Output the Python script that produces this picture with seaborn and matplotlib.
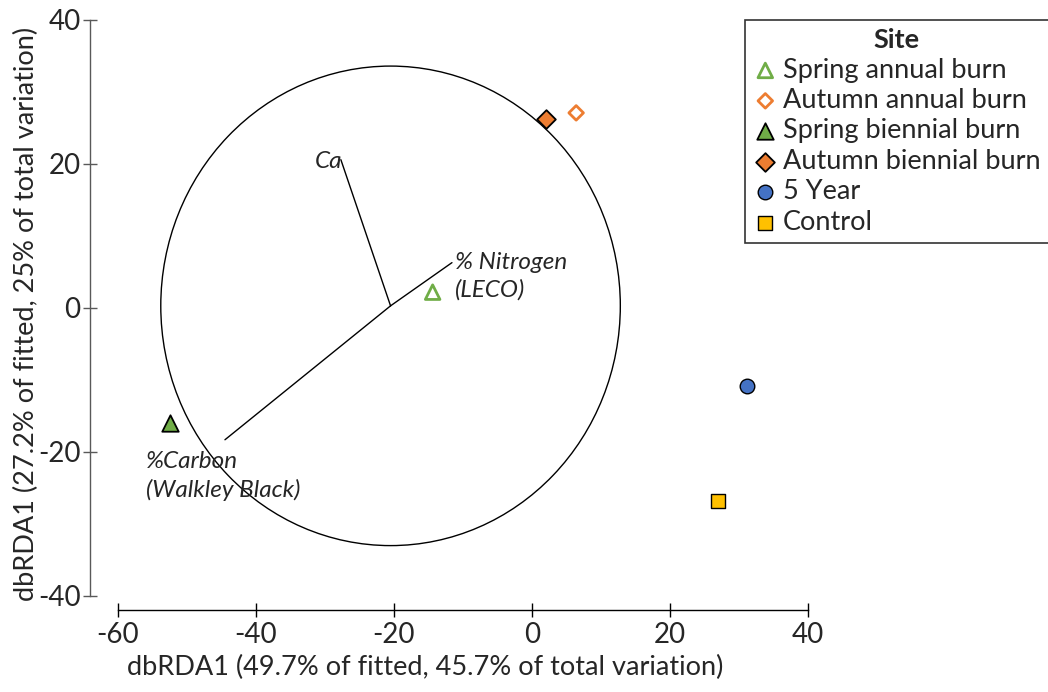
import matplotlib
matplotlib.use("Agg")
import matplotlib.pyplot as plt
from matplotlib.patches import Circle
import seaborn as sns
import pandas as pd

# ---- data ----
sites = ["Spring annual burn", "Autumn annual burn", "Spring biennial burn",
         "Autumn biennial burn", "5 Year", "Control"]
site_x = [-14.4, 6.4, -52.5, 2.1, 31.2, 26.9]
site_y = [2.2, 27.1, -16.0, 26.2, -10.8, -26.8]

vector_names = ["Ca", "% Nitrogen\n(LECO)", "%Carbon\n(Walkley Black)"]
vector_x = [-27.7, -11.6, -44.5]
vector_y = [20.6, 6.3, -18.3]
origin_x, origin_y = -20.5, 0.3
circle_radius = 33.3

x_ticks = [-60, -40, -20, 0, 20, 40]
y_ticks = [-40, -20, 0, 20, 40]
x_label = "dbRDA1 (49.7% of fitted, 45.7% of total variation)"
y_label = "dbRDA1 (27.2% of fitted, 25% of total variation)"

# ---- styles ----
green, orange, blue, yellow = "#70AD47", "#ED7D31", "#4472C4", "#FFC000"
styles = {
    "Spring annual burn":   dict(marker="^", facecolor="none", edgecolor=green, linewidth=2.0, s=110),
    "Autumn annual burn":   dict(marker="D", facecolor="none", edgecolor=orange, linewidth=2.0, s=55),
    "Spring biennial burn": dict(marker="^", facecolor=green, edgecolor="black", linewidth=1.3, s=140),
    "Autumn biennial burn": dict(marker="D", facecolor=orange, edgecolor="black", linewidth=1.3, s=90),
    "5 Year":               dict(marker="o", facecolor=blue, edgecolor="black", linewidth=1.0, s=110),
    "Control":              dict(marker="s", facecolor=yellow, edgecolor="black", linewidth=1.0, s=110),
}

sns.set_style("white")
plt.rcParams["font.family"] = ["Lato", "DejaVu Sans"]
plt.rcParams["axes.unicode_minus"] = False

fig = plt.figure(figsize=(10.48, 6.92), dpi=100)
ax = fig.add_axes([118 / 1048, 1 - 596 / 692, 690 / 1048, 576 / 692])

df = pd.DataFrame({"site": sites, "x": site_x, "y": site_y})

# circle and vectors
ax.add_patch(Circle((origin_x, origin_y), circle_radius, fill=False,
                    edgecolor="black", linewidth=1.0, zorder=1))
for name, vx, vy in zip(vector_names, vector_x, vector_y):
    ax.plot([origin_x, vx], [origin_y, vy], color="black", linewidth=1.0, zorder=1)

label_offsets = {"Ca": (1, -1), "% Nitrogen\n(LECO)": (2, 8), "%Carbon\n(Walkley Black)": (-57, -8)}
label_align = {"Ca": ("right", "center"), "% Nitrogen\n(LECO)": ("left", "top"),
               "%Carbon\n(Walkley Black)": ("left", "top")}
for name, vx, vy in zip(vector_names, vector_x, vector_y):
    ha, va = label_align[name]
    ax.annotate(name, (vx, vy), xytext=label_offsets[name], textcoords="offset points",
                ha=ha, va=va, fontsize=17.5, fontstyle="italic", linespacing=1.4)

for site in sites:
    sub = df[df["site"] == site]
    st = styles[site]
    sns.scatterplot(data=sub, x="x", y="y", ax=ax, label=site, zorder=3, **st)

ax.set_xlim(-60, 40)
ax.set_ylim(-40, 40)
ax.set_xticks(x_ticks)
ax.set_yticks(y_ticks)
ax.set_xlabel(x_label, fontsize=19.5)
ax.set_ylabel(y_label, fontsize=19.5)
ax.xaxis.set_label_coords(0.445, -0.102)
ax.yaxis.set_label_coords(-0.114, 0.49)

for s in ["top", "right"]:
    ax.spines[s].set_visible(False)
ax.spines["left"].set_position(("outward", 20))
ax.spines["bottom"].set_position(("outward", 10))
ax.spines["left"].set_color("#595959")
ax.spines["bottom"].set_color("black")
ax.spines["left"].set_linewidth(1.0)
ax.spines["bottom"].set_linewidth(1.0)
ax.tick_params(axis="y", direction="inout", length=10, width=1, color="#595959",
               labelsize=20, left=True, pad=2)
ax.tick_params(axis="x", direction="inout", length=10, width=1, color="black",
               labelsize=20, bottom=True, pad=4)

leg = ax.legend(title="Site", loc="upper left", bbox_to_anchor=(745 / 1048, 1 - 20 / 692),
                bbox_transform=fig.transFigure, frameon=True, fancybox=False,
                fontsize=19.5, title_fontsize=19.5, handletextpad=0.2, handlelength=0.9,
                borderpad=0.3, labelspacing=0.2, borderaxespad=0)
leg.get_title().set_fontweight("bold")
leg.get_frame().set_edgecolor("black")
leg.get_frame().set_linewidth(1.2)

fig.savefig("out.png", dpi=100)
